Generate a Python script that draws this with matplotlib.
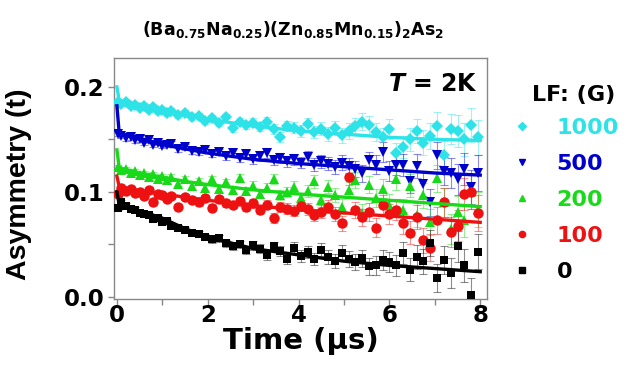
import matplotlib
matplotlib.use("Agg")
import matplotlib.pyplot as plt
from matplotlib.lines import Line2D

plt.rcParams['font.family'] = ['DejaVu Sans']
plt.rcParams['mathtext.fontset'] = 'custom'
plt.rcParams['mathtext.rm'] = 'DejaVu Sans:bold'
plt.rcParams['mathtext.bf'] = 'DejaVu Sans:bold'
plt.rcParams['mathtext.it'] = 'DejaVu Sans:bold:italic'

time = [0.02,0.10,0.20,0.30,0.40,0.50,0.60,0.70,0.80,0.90,
        1.00,1.10,1.20,1.35,1.50,1.65,1.80,1.95,2.10,2.25,
        2.40,2.55,2.70,2.85,3.00,3.15,3.30,3.45,3.60,3.75,
        3.90,4.05,4.20,4.35,4.50,4.65,4.80,4.95,5.10,5.25,
        5.40,5.55,5.70,5.85,6.00,6.15,6.30,6.45,6.60,6.75,
        6.90,7.05,7.20,7.35,7.50,7.65,7.80,7.95]
err = [0.0020,0.0020,0.0021,0.0021,0.0022,0.0022,0.0023,0.0023,0.0024,0.0024,
       0.0025,0.0025,0.0026,0.0027,0.0028,0.0029,0.0030,0.0031,0.0032,0.0033,
       0.0034,0.0036,0.0037,0.0039,0.0040,0.0042,0.0044,0.0046,0.0048,0.0050,
       0.0052,0.0054,0.0057,0.0059,0.0062,0.0065,0.0068,0.0071,0.0074,0.0077,
       0.0081,0.0084,0.0088,0.0092,0.0096,0.0100,0.0105,0.0110,0.0114,0.0119,
       0.0125,0.0130,0.0136,0.0142,0.0148,0.0155,0.0162,0.0169]

a_1000 = [0.186,0.184,0.186,0.182,0.183,0.180,0.182,0.178,0.181,0.177,
          0.178,0.175,0.177,0.173,0.175,0.171,0.172,0.168,0.170,0.166,
          0.171,0.161,0.167,0.164,0.166,0.162,0.167,0.160,0.152,0.163,
          0.161,0.158,0.165,0.157,0.160,0.155,0.161,0.154,0.158,0.163,
          0.167,0.164,0.157,0.152,0.160,0.137,0.143,0.150,0.158,0.147,
          0.153,0.163,0.135,0.160,0.158,0.150,0.164,0.152]
a_500 = [0.155,0.153,0.151,0.152,0.149,0.150,0.147,0.149,0.145,0.147,
         0.144,0.145,0.146,0.141,0.143,0.139,0.138,0.140,0.136,0.138,
         0.134,0.137,0.132,0.136,0.131,0.134,0.137,0.130,0.132,0.129,
         0.131,0.128,0.133,0.126,0.129,0.127,0.124,0.128,0.125,0.122,
         0.118,0.130,0.126,0.138,0.120,0.126,0.126,0.110,0.125,0.108,
         0.090,0.135,0.120,0.118,0.112,0.122,0.105,0.118]
a_200 = [0.124,0.121,0.122,0.118,0.120,0.116,0.118,0.114,0.117,0.112,
         0.115,0.111,0.114,0.108,0.112,0.106,0.110,0.104,0.112,0.103,
         0.109,0.102,0.113,0.101,0.106,0.098,0.104,0.112,0.097,0.100,
         0.105,0.094,0.101,0.110,0.092,0.105,0.097,0.086,0.102,0.111,
         0.080,0.107,0.094,0.103,0.088,0.112,0.083,0.106,0.078,0.097,
         0.071,0.113,0.090,0.065,0.081,0.073,0.100,0.083]
a_100 = [0.098,0.104,0.101,0.103,0.099,0.100,0.096,0.102,0.090,0.098,
         0.097,0.093,0.096,0.086,0.095,0.092,0.090,0.094,0.085,0.093,
         0.089,0.088,0.091,0.086,0.089,0.083,0.088,0.075,0.086,0.084,
         0.082,0.087,0.084,0.078,0.081,0.086,0.079,0.070,0.114,0.083,
         0.076,0.081,0.066,0.088,0.079,0.083,0.070,0.061,0.076,0.054,
         0.047,0.073,0.090,0.062,0.068,0.098,0.100,0.080]
a_0 = [0.085,0.090,0.087,0.084,0.083,0.080,0.079,0.078,0.074,0.075,
       0.071,0.072,0.068,0.066,0.064,0.061,0.060,0.057,0.055,0.056,
       0.051,0.048,0.050,0.045,0.049,0.046,0.040,0.048,0.044,0.036,
       0.047,0.039,0.043,0.036,0.045,0.038,0.034,0.042,0.036,0.033,
       0.037,0.029,0.030,0.035,0.033,0.030,0.042,0.026,0.038,0.034,
       0.051,0.018,0.035,0.023,0.048,0.030,0.002,0.043]

fit_t = [0.0, 0.05, 0.5, 1.0, 1.5, 2.0, 3.0, 4.0, 5.0, 6.0, 7.0, 8.0]
fit_1000 = [0.200, 0.187, 0.181, 0.177, 0.173, 0.169, 0.163, 0.158, 0.155, 0.152, 0.150, 0.149]
fit_500 = [0.182, 0.156, 0.150, 0.145, 0.141, 0.137, 0.131, 0.127, 0.124, 0.121, 0.118, 0.116]
fit_200 = [0.140, 0.123, 0.118, 0.114, 0.110, 0.107, 0.102, 0.098, 0.095, 0.092, 0.089, 0.086]
fit_100 = [0.115, 0.105, 0.101, 0.098, 0.095, 0.092, 0.087, 0.083, 0.080, 0.077, 0.074, 0.071]
fit_0 = [0.100, 0.088, 0.082, 0.075, 0.065, 0.057, 0.046, 0.040, 0.034, 0.030, 0.027, 0.024]

labels = ['1000', '500', '200', '100', '0']
colors = ['#2DE3E8', '#0000CC', '#18DA18', '#EE1111', '#000000']
markers = ['D', 'v', '^', 'o', 's']
msizes = [6.5, 7.5, 7.5, 7.5, 6.2]
data = [a_1000, a_500, a_200, a_100, a_0]
fits = [fit_1000, fit_500, fit_200, fit_100, fit_0]

fig = plt.figure(figsize=(6.4, 3.69), dpi=100)
ax = fig.add_axes([0.178, 0.190, 0.583, 0.653])

handles = []
for lab, c, m, ms, y, f in zip(labels, colors, markers, msizes, data, fits):
    ax.errorbar(time, y, yerr=err, fmt='none', ecolor=c, alpha=0.45,
                elinewidth=0.8, capsize=3, capthick=0.8, zorder=2)
    ax.plot(time, y, linestyle='none', marker=m, color=c, markersize=ms,
            markeredgewidth=0, zorder=3)
    ax.plot(fit_t, f, color=c, lw=2.4, zorder=4)
    handles.append(Line2D([], [], linestyle='none', marker=m, color=c,
                          markersize=4.5, label=lab))

ax.set_xlim(-0.066, 8.15)
ax.set_ylim(-0.0019, 0.2276)
ax.set_xticks([0, 2, 4, 6, 8])
ax.set_xticks([1, 3, 5, 7], minor=True)
ax.set_yticks([0.0, 0.1, 0.2])
ax.set_yticks([0.05, 0.15], minor=True)
ax.set_yticklabels(['0.0', '0.1', '0.2'])
for sp in ax.spines.values():
    sp.set_color('#888888')
    sp.set_linewidth(1.0)
ax.tick_params(which='both', direction='out', color='#888888', width=1.0)
ax.tick_params(which='major', length=4, labelsize=16.5)
ax.tick_params(axis='x', which='major', pad=0)
ax.tick_params(axis='y', which='major', pad=3)
ax.tick_params(which='minor', length=4)
for lbl in ax.get_xticklabels() + ax.get_yticklabels():
    lbl.set_fontweight('bold')

ax.set_xlabel('Time (\u03bcs)', fontsize=21, fontweight='bold', labelpad=0)
ax.set_ylabel('Asymmetry (t)', fontsize=20.5, fontweight='bold',
              family='Liberation Sans')
ax.yaxis.set_label_coords(-0.22, 0.477)
fig.text(0.458, 1 - 35 / 369,
         r'$\mathbf{(Ba_{0.75}Na_{0.25})(Zn_{0.85}Mn_{0.15})_2As_2}$',
         fontsize=12.5, ha='center', va='baseline')
ax.text(0.975, 0.94, r'$T$' + ' = 2K', transform=ax.transAxes, ha='right', va='top',
        fontsize=17, fontweight='bold')

fig.text(532 / 640, 1 - 95 / 369, 'LF: (G)', fontsize=16, fontweight='bold',
         ha='left', va='center')
leg = fig.legend(handles=handles, loc='upper left',
                 bbox_to_anchor=(0.767, 0.735), frameon=False,
                 prop={'size': 16, 'weight': 'bold'},
                 handlelength=1.0, handletextpad=1.05, labelspacing=0.72,
                 borderpad=0.4)
for t, c in zip(leg.get_texts(), colors):
    t.set_color(c)

fig.savefig('out.png', dpi=100)
